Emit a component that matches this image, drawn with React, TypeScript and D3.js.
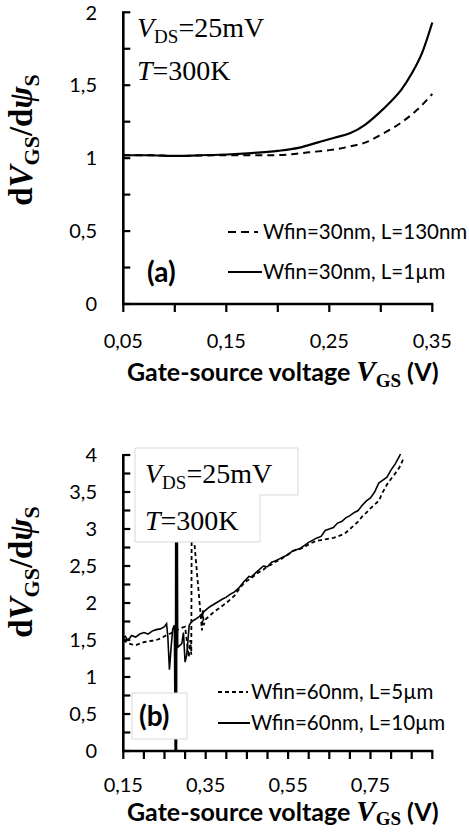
import React from "react";
import * as d3 from "d3";

// ---------- data ----------
const aXTicks = [0.05, 0.1, 0.15, 0.2, 0.25, 0.3, 0.35];
const aXLabels = [0.05, 0.15, 0.25, 0.35];
const aYTicks = [0, 0.25, 0.5, 0.75, 1, 1.25, 1.5, 1.75, 2];
const aYLabels = [0, 0.5, 1, 1.5, 2];

const bXTicks = [0.15, 0.2, 0.25, 0.3, 0.35, 0.4, 0.45, 0.5, 0.55, 0.6, 0.65, 0.7, 0.75, 0.8, 0.85, 0.9];
const bXLabels = [0.15, 0.35, 0.55, 0.75];
const bYTicks = [0, 0.25, 0.5, 0.75, 1, 1.25, 1.5, 1.75, 2, 2.25, 2.5, 2.75, 3, 3.25, 3.5, 3.75, 4];
const bYLabels = [0, 0.5, 1, 1.5, 2, 2.5, 3, 3.5, 4];

// panel (a): Wfin=30nm, L=130nm (dashed)
const aL130: [number, number][] = [
  [0.05, 1.02], [0.075, 1.02], [0.1, 1.015], [0.125, 1.018], [0.15, 1.02], [0.17, 1.02], [0.19, 1.02],
  [0.21, 1.025], [0.23, 1.04], [0.25, 1.055], [0.27, 1.08], [0.286, 1.11], [0.3, 1.16],
  [0.319, 1.24], [0.335, 1.33], [0.35, 1.44],
];
// panel (a): Wfin=30nm, L=1µm (solid)
const aL1u: [number, number][] = [
  [0.05, 1.02], [0.075, 1.02], [0.1, 1.015], [0.125, 1.02], [0.15, 1.025], [0.175, 1.035],
  [0.2, 1.05], [0.22, 1.07], [0.24, 1.11], [0.255, 1.14], [0.27, 1.17], [0.285, 1.23],
  [0.296, 1.295], [0.31, 1.39], [0.32, 1.47], [0.33, 1.58], [0.34, 1.72], [0.35, 1.93],
];

// panel (b): Wfin=60nm, L=5µm (dashed)
const bL5u: [number, number][] = [
  [0.15, 1.5], [0.16, 1.46], [0.17, 1.44], [0.18, 1.43], [0.19, 1.45], [0.2, 1.47], [0.21, 1.48],
  [0.22, 1.49], [0.23, 1.5], [0.24, 1.52], [0.25, 1.55], [0.26, 1.58], [0.27, 1.6], [0.28, 1.63],
  [0.29, 1.66], [0.3, 1.68], [0.305, 1.45], [0.309, 1.27], [0.3125, 1.5], [0.315, 1.3],
  [0.316, 3.1], [0.318, 3.1], [0.341, 1.63], [0.343, 1.9], [0.345, 1.7], [0.35, 1.78],
  [0.36, 1.83], [0.37, 1.88], [0.38, 1.92], [0.39, 1.96], [0.4, 2.0], [0.41, 2.05], [0.42, 2.1],
  [0.43, 2.18], [0.44, 2.25], [0.45, 2.3], [0.46, 2.33], [0.47, 2.38], [0.48, 2.42], [0.49, 2.45],
  [0.5, 2.5], [0.51, 2.52], [0.52, 2.56], [0.53, 2.58], [0.54, 2.62], [0.55, 2.66], [0.56, 2.7],
  [0.57, 2.72], [0.58, 2.73], [0.59, 2.76], [0.6, 2.79], [0.61, 2.82], [0.62, 2.84], [0.63, 2.85],
  [0.64, 2.86], [0.65, 2.87], [0.66, 2.88], [0.67, 2.9], [0.68, 2.92], [0.69, 2.95], [0.7, 3.0],
  [0.71, 3.05], [0.72, 3.1], [0.73, 3.17], [0.74, 3.22], [0.75, 3.28], [0.76, 3.33], [0.77, 3.38],
  [0.78, 3.5], [0.79, 3.6], [0.8, 3.68], [0.81, 3.75], [0.82, 3.83], [0.83, 3.95],
];
// panel (b): Wfin=60nm, L=10µm (solid)
const bL10u: [number, number][] = [
  [0.15, 1.52], [0.155, 1.55], [0.16, 1.5], [0.165, 1.52], [0.17, 1.56], [0.18, 1.54], [0.19, 1.58],
  [0.2, 1.6], [0.21, 1.58], [0.22, 1.62], [0.23, 1.64], [0.24, 1.65], [0.25, 1.68], [0.255, 1.72],
  [0.258, 1.55], [0.262, 1.1], [0.266, 1.4], [0.27, 1.65], [0.274, 1.7],
  [0.2765, -0.5], [0.2775, 4.5], [0.279, -0.5], [0.2805, 4.5], [0.282, 1.4],
  [0.292, 1.45], [0.296, 1.6], [0.3, 1.2], [0.304, 1.3], [0.31, 1.7], [0.316, 1.75], [0.325, 1.78],
  [0.335, 1.82], [0.345, 1.88], [0.36, 1.95], [0.375, 2.0], [0.39, 2.05], [0.4, 2.08], [0.41, 2.12],
  [0.42, 2.15], [0.43, 2.2], [0.44, 2.27], [0.45, 2.33], [0.455, 2.36], [0.46, 2.35], [0.47, 2.4],
  [0.48, 2.45], [0.49, 2.5], [0.5, 2.49], [0.51, 2.55], [0.52, 2.57], [0.53, 2.6], [0.54, 2.63],
  [0.55, 2.65], [0.56, 2.7], [0.57, 2.72], [0.58, 2.74], [0.59, 2.78], [0.6, 2.82], [0.61, 2.85],
  [0.62, 2.88], [0.63, 2.9], [0.64, 2.98], [0.65, 3.0], [0.66, 3.02], [0.67, 3.08], [0.68, 3.1],
  [0.69, 3.15], [0.7, 3.18], [0.71, 3.22], [0.72, 3.25], [0.73, 3.32], [0.74, 3.38], [0.75, 3.42],
  [0.76, 3.5], [0.77, 3.62], [0.78, 3.66], [0.79, 3.7], [0.8, 3.8], [0.81, 3.88], [0.82, 3.98], [0.823, 4.02],
];

const aLegend = ["Wfin=30nm, L=130nm", "Wfin=30nm, L=1\u00b5m"];
const bLegend = ["Wfin=60nm, L=5\u00b5m", "Wfin=60nm, L=10\u00b5m"];

// ---------- style ----------
const SANS = "Lato, 'Open Sans', sans-serif";
const SERIF = "'Liberation Serif', 'DejaVu Serif', serif";
const loc = d3.formatLocale({ decimal: ",", thousands: " ", grouping: [3], currency: ["", ""] });
const fx = loc.format(".2f");
const fy = loc.format(".2~f");

type Geom = { x0: number; x1: number; yTop: number; yBot: number };

function Axes({ g, xs, ys, xTicks, xLabels, yTicks, yLabels, labelOffset }: any) {
  return (
    <g>
      {yTicks.map((t: number) => (
        <line key={"yt" + t} x1={g.x0} x2={g.x0 + 7} y1={ys(t)} y2={ys(t)} stroke="#000" strokeWidth={2.2} />
      ))}
      {xTicks.map((t: number) => (
        <line key={"xt" + t} x1={xs(t)} x2={xs(t)} y1={g.yBot} y2={g.yBot + 8} stroke="#000" strokeWidth={2.2} />
      ))}
      <line x1={g.x0} x2={g.x0} y1={g.yTop - 1} y2={g.yBot + 1.2} stroke="#000" strokeWidth={2.6} />
      <line x1={g.x0 - 1.2} x2={g.x1 + 1} y1={g.yBot} y2={g.yBot} stroke="#000" strokeWidth={2.6} />
      {yLabels.map((t: number) => (
        <text key={"yl" + t} x={97} y={ys(t)} dy="0.36em" textAnchor="end" fontFamily={SANS} fontSize={20}>
          {fy(t)}
        </text>
      ))}
      {xLabels.map((t: number) => (
        <text key={"xl" + t} x={xs(t)} y={g.yBot + labelOffset} textAnchor="middle" fontFamily={SANS} fontSize={20}>
          {fx(t)}
        </text>
      ))}
    </g>
  );
}

function YTitle({ cx, cy }: { cx: number; cy: number }) {
  return (
    <text transform={`translate(${cx},${cy}) rotate(-90)`} textAnchor="middle" fontFamily={SERIF} fontWeight="bold" fontSize={33}>
      <tspan>d</tspan>
      <tspan fontStyle="italic">V</tspan>
      <tspan fontSize={22} dy={7}>GS</tspan>
      <tspan dy={-7}>/d</tspan>
      <tspan fontStyle="italic">ψ</tspan>
      <tspan fontSize={22} dy={7}>S</tspan>
    </text>
  );
}

function XTitle({ x, y, sub }: { x: number; y: number; sub: number }) {
  return (
    <text x={x} y={y} fontFamily={SANS} fontWeight="bold" fontSize={25}>
      <tspan>Gate-source voltage </tspan>
      <tspan fontFamily={SERIF} fontStyle="italic" fontSize={29}>V</tspan>
      <tspan fontFamily={SERIF} fontSize={19} dy={sub}>GS</tspan>
      <tspan dy={-sub}> (V)</tspan>
    </text>
  );
}

function Annot({ x, y1, y2 }: { x: number; y1: number; y2: number }) {
  return (
    <g fontFamily={SERIF} fontSize={28}>
      <text x={x} y={y1}>
        <tspan fontStyle="italic">V</tspan>
        <tspan fontSize={19} dy={6}>DS</tspan>
        <tspan dy={-6}>=25mV</tspan>
      </text>
      <text x={x} y={y2}>
        <tspan fontStyle="italic">T</tspan>
        <tspan>=300K</tspan>
      </text>
    </g>
  );
}

export default function App() {
  const ga: Geom = { x0: 123.3, x1: 432.3, yTop: 12.3, yBot: 304 };
  const gb: Geom = { x0: 123.3, x1: 432.3, yTop: 455, yBot: 751 };

  const xa = d3.scaleLinear().domain([0.05, 0.35]).range([ga.x0, ga.x1]);
  const ya = d3.scaleLinear().domain([0, 2]).range([ga.yBot, ga.yTop]);
  const xb = d3.scaleLinear().domain([0.15, 0.9]).range([gb.x0, gb.x1]);
  const yb = d3.scaleLinear().domain([0, 4]).range([gb.yBot, gb.yTop]);

  const la = d3.line<[number, number]>().x((d) => xa(d[0])).y((d) => ya(d[1])).curve(d3.curveMonotoneX);
  const lb = d3.line<[number, number]>().x((d) => xb(d[0])).y((d) => yb(d[1]));

  return (
    <svg width={469} height={833} style={{ position: "absolute", left: 0, top: 0, background: "#fff" }}>
      <defs>
        <clipPath id="clipA">
          <rect x={ga.x0} y={ga.yTop - 5} width={ga.x1 - ga.x0 + 3} height={ga.yBot - ga.yTop + 5} />
        </clipPath>
        <clipPath id="clipB">
          <rect x={gb.x0} y={gb.yTop - 1} width={gb.x1 - gb.x0} height={gb.yBot - gb.yTop + 1} />
        </clipPath>
      </defs>
      <rect x={0} y={0} width={469} height={833} fill="#fff" />

      {/* ---------- panel (a) ---------- */}
      <Axes g={ga} xs={xa} ys={ya} xTicks={aXTicks} xLabels={aXLabels} yTicks={aYTicks} yLabels={aYLabels} labelOffset={44} />
      <g clipPath="url(#clipA)" fill="none" stroke="#000">
        <path d={la(aL130) || ""} strokeWidth={2} strokeDasharray="7,5" />
        <path d={la(aL1u) || ""} strokeWidth={2.2} />
      </g>
      <Annot x={137} y1={37} y2={80} />
      <g>
        <line x1={228} x2={258} y1={232} y2={232} stroke="#000" strokeWidth={2} strokeDasharray="8,5" />
        <text x={263} y={232} dy="0.36em" fontFamily={SANS} fontSize={20.5}>{aLegend[0]}</text>
        <line x1={228} x2={262} y1={272} y2={272} stroke="#000" strokeWidth={2} />
        <text x={263} y={272} dy="0.36em" fontFamily={SANS} fontSize={20.5}>{aLegend[1]}</text>
        <text x={147} y={272} dy="0.36em" fontFamily={SANS} fontWeight="bold" fontSize={28}>(a)</text>
      </g>
      <YTitle cx={32} cy={140} />
      <XTitle x={127} y={381} sub={6} />

      {/* ---------- panel (b) ---------- */}
      <Axes g={gb} xs={xb} ys={yb} xTicks={bXTicks} xLabels={bXLabels} yTicks={bYTicks} yLabels={bYLabels} labelOffset={41} />
      <g clipPath="url(#clipB)" fill="none" stroke="#000">
        <path d={lb(bL5u) || ""} strokeWidth={1.8} strokeDasharray="4,3" />
        <path d={lb(bL10u) || ""} strokeWidth={1.6} />
      </g>
      <path d="M135,448 H298 V495 H260 V542 H135 Z" fill="#fff" stroke="#d9d9d9" strokeWidth={1} />
      <Annot x={145} y1={483} y2={530} />
      <rect x={132} y={693} width={55} height={46} fill="#fff" stroke="#d9d9d9" strokeWidth={1} />
      <text x={139} y={716} dy="0.36em" fontFamily={SANS} fontWeight="bold" fontSize={28}>(b)</text>
      <g>
        <line x1={218} x2={248} y1={692} y2={692} stroke="#000" strokeWidth={2} strokeDasharray="4,3" />
        <text x={251} y={692} dy="0.36em" fontFamily={SANS} fontSize={20.5}>{bLegend[0]}</text>
        <line x1={218} x2={250} y1={723} y2={723} stroke="#000" strokeWidth={2} />
        <text x={251} y={723} dy="0.36em" fontFamily={SANS} fontSize={20.5}>{bLegend[1]}</text>
      </g>
      <YTitle cx={32} cy={572} />
      <XTitle x={127} y={821} sub={4} />
    </svg>
  );
}
